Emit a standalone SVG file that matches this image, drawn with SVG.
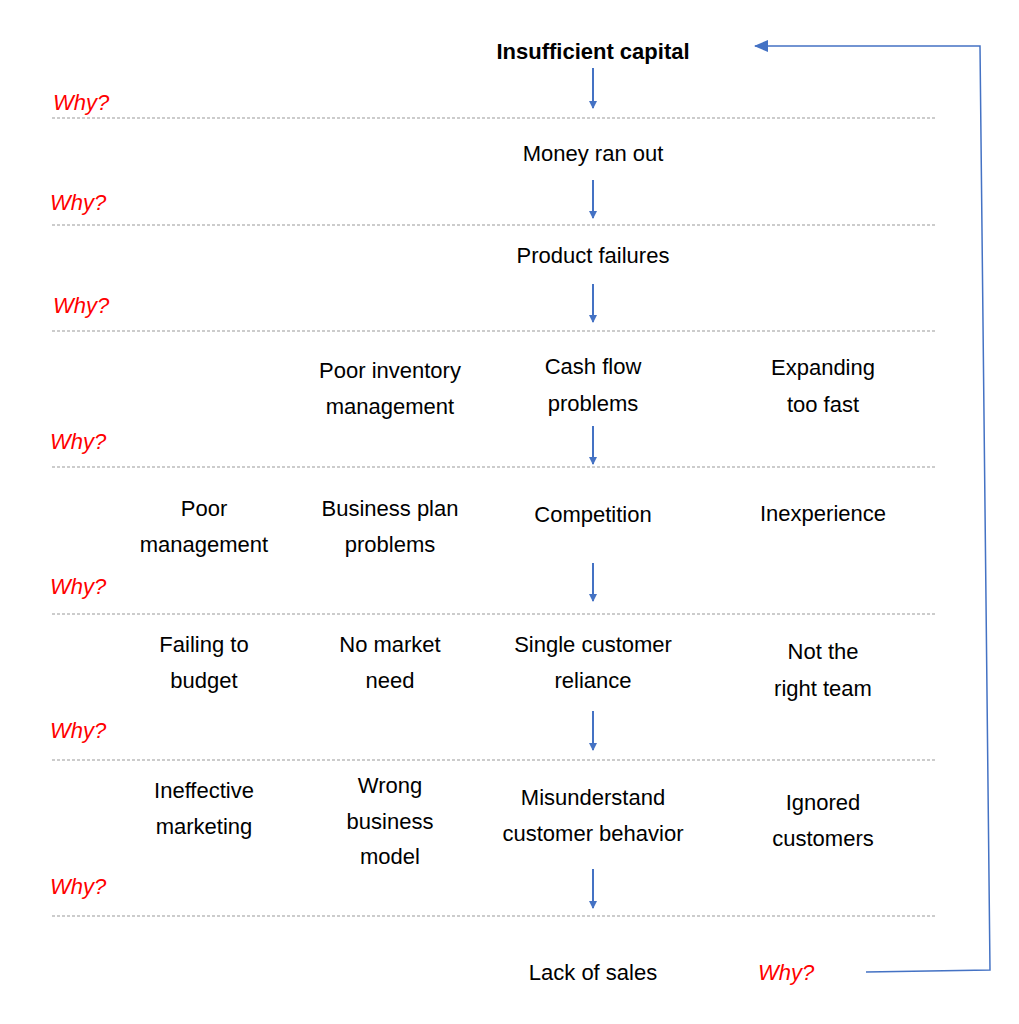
<svg xmlns="http://www.w3.org/2000/svg" width="1019" height="1024" viewBox="0 0 1019 1024">
<style>
text{font-family:"Liberation Sans",Arial,sans-serif;font-size:22px;fill:#000;text-anchor:middle}
.why{fill:#ff0000;font-style:italic;text-anchor:start}
.b{font-weight:bold}
.sep{stroke:#999;stroke-width:1.2;stroke-dasharray:3 2}
.arr{stroke:#4472c4;stroke-width:2;marker-end:url(#ah)}
</style>
<defs><marker id="ah" markerWidth="8" markerHeight="8" refX="7" refY="4" orient="auto" markerUnits="userSpaceOnUse" viewBox="0 0 8 8"><path d="M0,0L8,4L0,8z" fill="#4472c4"/></marker>
<marker id="ah2" markerWidth="14" markerHeight="12" refX="13" refY="6" orient="auto" markerUnits="userSpaceOnUse"><path d="M0,0L14,6L0,12z" fill="#4472c4"/></marker></defs>
<rect width="1019" height="1024" fill="#fff"/>
<g id="separators">
<line class="sep" x1="52" y1="118" x2="937" y2="118"/><line class="sep" x1="52" y1="225" x2="937" y2="225"/>
<line class="sep" x1="52" y1="331" x2="937" y2="331"/><line class="sep" x1="52" y1="467" x2="937" y2="467"/>
<line class="sep" x1="52" y1="614" x2="937" y2="614"/><line class="sep" x1="52" y1="760" x2="937" y2="760"/>
<line class="sep" x1="52" y1="916" x2="937" y2="916"/>
</g>
<g id="connectors">
<line class="arr" x1="593" y1="68" x2="593" y2="108"/><line class="arr" x1="593" y1="180" x2="593" y2="218"/>
<line class="arr" x1="593" y1="284" x2="593" y2="322"/><line class="arr" x1="593" y1="426" x2="593" y2="464"/>
<line class="arr" x1="593" y1="563" x2="593" y2="601"/><line class="arr" x1="593" y1="711" x2="593" y2="750"/>
<line class="arr" x1="593" y1="869" x2="593" y2="908"/>
<polyline points="866,972 990,970 980,46 755,46" fill="none" stroke="#4472c4" stroke-width="1.5" marker-end="url(#ah2)"/>
</g>
<g id="n-top"><text class="b" x="593" y="59">Insufficient capital</text></g>
<g id="n1"><text x="593" y="161">Money ran out</text></g>
<g id="n2"><text x="593" y="263">Product failures</text></g>
<g id="r4">
<text x="390" y="378">Poor inventory</text><text x="390" y="414">management</text>
<text x="593" y="374">Cash flow</text><text x="593" y="411">problems</text>
<text x="823" y="375">Expanding</text><text x="823" y="412">too fast</text>
</g>
<g id="r5">
<text x="204" y="516">Poor</text><text x="204" y="552">management</text>
<text x="390" y="516">Business plan</text><text x="390" y="552">problems</text>
<text x="593" y="522">Competition</text><text x="823" y="521">Inexperience</text>
</g>
<g id="r6">
<text x="204" y="652">Failing to</text><text x="204" y="688">budget</text>
<text x="390" y="652">No market</text><text x="390" y="688">need</text>
<text x="593" y="652">Single customer</text><text x="593" y="688">reliance</text>
<text x="823" y="659">Not the</text><text x="823" y="696">right team</text>
</g>
<g id="r7">
<text x="204" y="798">Ineffective</text><text x="204" y="834">marketing</text>
<text x="390" y="793">Wrong</text><text x="390" y="829">business</text><text x="390" y="864">model</text>
<text x="593" y="805">Misunderstand</text><text x="593" y="841">customer behavior</text>
<text x="823" y="810">Ignored</text><text x="823" y="846">customers</text>
</g>
<g id="n-bottom"><text x="593" y="980">Lack of sales</text><text class="why" x="758" y="980">Why?</text></g>
<g id="whys">
<text class="why" x="53" y="110">Why?</text><text class="why" x="50" y="210">Why?</text>
<text class="why" x="53" y="313">Why?</text><text class="why" x="50" y="449">Why?</text>
<text class="why" x="50" y="594">Why?</text><text class="why" x="50" y="738">Why?</text>
<text class="why" x="50" y="894">Why?</text>
</g>
</svg>
